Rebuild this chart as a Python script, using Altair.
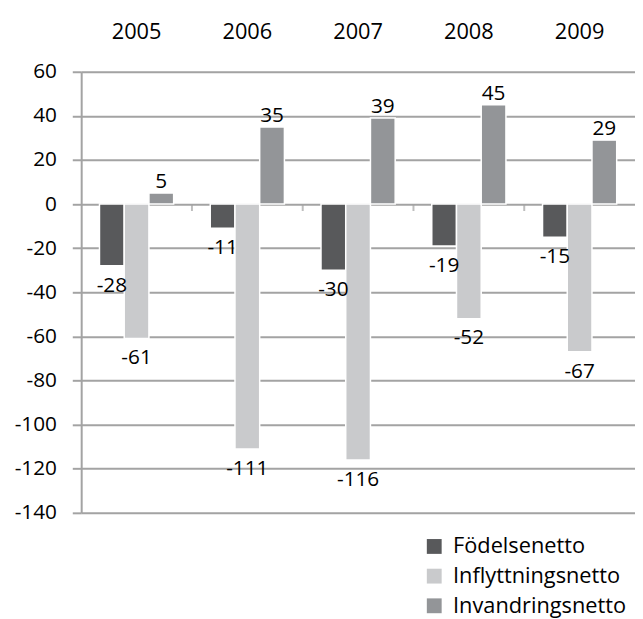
import altair as alt
import pandas as pd

years = ["2005", "2006", "2007", "2008", "2009"]
series = ["Födelsenetto", "Inflyttningsnetto", "Invandringsnetto"]
fodelse = [-28, -11, -30, -19, -15]
inflytt = [-61, -111, -116, -52, -67]
invandr = [5, 35, 39, 45, 29]
colors = ["#58595b", "#c9cacc", "#939598"]
y_ticks = list(range(-140, 61, 20))

rows = []
for name, vals in zip(series, [fodelse, inflytt, invandr]):
    for yr, v in zip(years, vals):
        rows.append({"year": yr, "serie": name, "value": v, "label": str(v)})
df = pd.DataFrame(rows)
bounds = pd.DataFrame({"year": years[1:]})

FONT = "Open Sans"
GRID = "#a3a3a3"

xs = alt.Scale(domain=years, paddingInner=0, paddingOuter=0)
ys = alt.Scale(domain=[-140, 60], nice=False)
xo = alt.XOffset("serie:N", sort=series,
                 scale=alt.Scale(domain=series, paddingInner=0, paddingOuter=0.74))

x_enc = alt.X("year:N", scale=xs, sort=years, title=None,
              axis=alt.Axis(orient="top", ticks=False, tickSize=0, domain=False,
                            labelAngle=0, labelFontSize=22, labelFont=FONT,
                            labelColor="black", labelPadding=29, grid=False))
y_enc = alt.Y("value:Q", scale=ys, title=None,
              axis=alt.Axis(values=y_ticks, grid=True, gridColor=GRID, gridWidth=2,
                            domain=True, domainColor=GRID, domainWidth=2,
                            tickColor=GRID, tickSize=9, tickWidth=2,
                            labelFontSize=21, labelFont=FONT, labelColor="black",
                            labelPadding=16, labelExpr="toString(datum.value)"))

base = alt.Chart(df)

bars = base.mark_bar(stroke="white", strokeWidth=1.5).encode(
    x=x_enc, y=y_enc, xOffset=xo,
    color=alt.Color("serie:N", sort=series,
                    scale=alt.Scale(domain=series, range=colors),
                    legend=alt.Legend(title=None, orient="none", legendX=346, legendY=469,
                                      symbolType="square", symbolSize=225,
                                      symbolStrokeWidth=0, labelFontSize=22,
                                      labelFont=FONT, labelColor="black", labelLimit=0,
                                      labelOffset=8, rowPadding=8, padding=0)),
)

pos_text = base.transform_filter("datum.value >= 0").mark_text(
    baseline="alphabetic", dy=-5, fontSize=21, font=FONT, color="black").encode(
    x=alt.X("year:N", scale=xs, sort=years), y=alt.Y("value:Q", scale=ys),
    xOffset=xo, text=alt.Text("label:N"))

neg_text = base.transform_filter("datum.value < 0").mark_text(
    baseline="alphabetic", dy=26, fontSize=21, font=FONT, color="black").encode(
    x=alt.X("year:N", scale=xs, sort=years), y=alt.Y("value:Q", scale=ys),
    xOffset=xo, text=alt.Text("label:N"))

ticks = alt.Chart(bounds).mark_tick(orient="vertical", size=7, thickness=2,
                                     color=GRID, yOffset=3.5).encode(
    x=alt.X("year:N", scale=xs, sort=years, bandPosition=0),
    y=alt.YDatum(0),
)

chart = alt.layer(bars, ticks, pos_text, neg_text).properties(
    width=560, height=446,
    padding={"left": 74, "top": 61, "right": 0, "bottom": 115},
    autosize=alt.AutoSizeParams(type="none"),
).configure_view(stroke=None).configure(background="white")

chart.save("out.html", embed_options={"renderer": "svg", "actions": False})
